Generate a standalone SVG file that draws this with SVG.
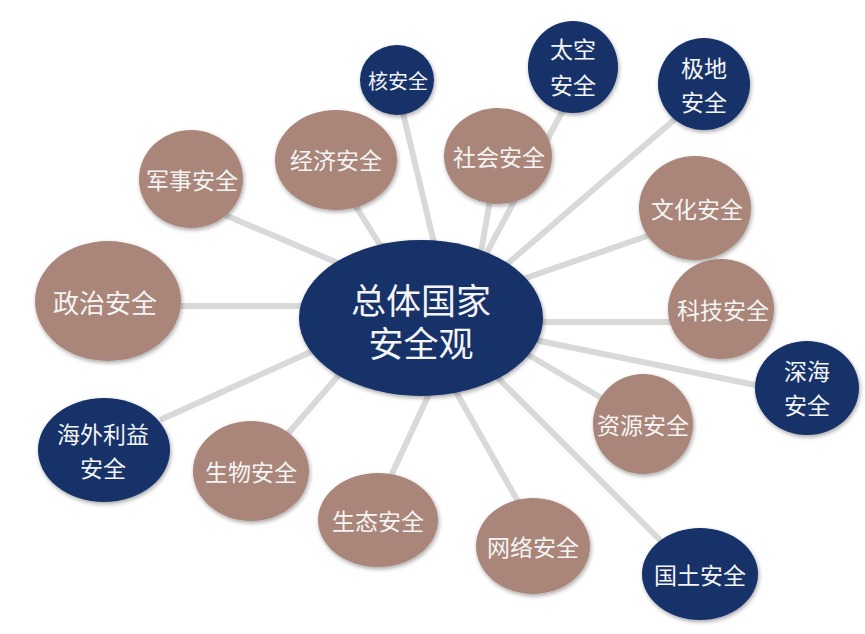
<svg xmlns="http://www.w3.org/2000/svg" width="865" height="634" viewBox="0 0 865 634">
<defs>
<filter id="sh" x="-20%" y="-20%" width="140%" height="140%">
<feDropShadow dx="1" dy="2" stdDeviation="2" flood-color="#000" flood-opacity="0.35"/>
</filter>
<style>
.br{fill:#A98679;filter:url(#sh)}
.nv{fill:#143069;filter:url(#sh)}
.ln{stroke:#D9D9D9;stroke-width:6;stroke-linecap:butt;fill:none}
text{font-family:"Noto Sans CJK SC","Noto Sans",sans-serif;fill:#F4F4F4;text-anchor:middle;dominant-baseline:central;font-size:23px}
</style>
</defs>
<rect width="865" height="634" fill="#fff"/>
<g id="connectors">
<line class="ln" x1="175" y1="306" x2="315" y2="306"/>
<line class="ln" x1="225" y1="215" x2="345" y2="266"/>
<line class="ln" x1="355" y1="205" x2="382" y2="248"/>
<line class="ln" x1="403" y1="113" x2="435" y2="247"/>
<line class="ln" x1="490" y1="200" x2="481" y2="252"/>
<line class="ln" x1="563" y1="110" x2="485" y2="256"/>
<line class="ln" x1="682" y1="113" x2="505" y2="266"/>
<line class="ln" x1="650" y1="235" x2="523" y2="279"/>
<line class="ln" x1="540" y1="322" x2="672" y2="322"/>
<line class="ln" x1="535" y1="340" x2="760" y2="386"/>
<line class="ln" x1="525" y1="353" x2="605" y2="400"/>
<line class="ln" x1="495" y1="375" x2="665" y2="545"/>
<line class="ln" x1="455" y1="390" x2="520" y2="505"/>
<line class="ln" x1="390" y1="478" x2="430" y2="392"/>
<line class="ln" x1="285" y1="437" x2="345" y2="368"/>
<line class="ln" x1="160" y1="420" x2="315" y2="350"/>
</g>
<g id="center"><ellipse class="nv" cx="421" cy="318" rx="122" ry="78"/><text style="font-size:35px"><tspan x="421" y="298">总体国家</tspan><tspan x="421" y="341">安全观</tspan></text></g>
<g id="zhengzhi"><ellipse class="br" cx="108" cy="301" rx="73" ry="60"/><text x="105" y="301" style="font-size:26px">政治安全</text></g>
<g id="junshi"><ellipse class="br" cx="191" cy="179" rx="52" ry="49"/><text x="192" y="179">军事安全</text></g>
<g id="jingji"><ellipse class="br" cx="336" cy="160" rx="61" ry="50"/><text x="336" y="159">经济安全</text></g>
<g id="he"><ellipse class="nv" cx="397" cy="80" rx="37" ry="35"/><text x="398" y="80" style="font-size:20px">核安全</text></g>
<g id="shehui"><ellipse class="br" cx="498" cy="156" rx="54" ry="48"/><text x="499" y="156">社会安全</text></g>
<g id="taikong"><ellipse class="nv" cx="573" cy="67" rx="45" ry="46"/><text><tspan x="573" y="48">太空</tspan><tspan x="573" y="84">安全</tspan></text></g>
<g id="jidi"><ellipse class="nv" cx="704" cy="84" rx="46" ry="46"/><text><tspan x="704" y="67">极地</tspan><tspan x="704" y="101">安全</tspan></text></g>
<g id="wenhua"><ellipse class="br" cx="695" cy="208" rx="56" ry="52"/><text x="697" y="208">文化安全</text></g>
<g id="keji"><ellipse class="br" cx="721" cy="309" rx="53" ry="50"/><text x="723" y="309">科技安全</text></g>
<g id="shenhai"><ellipse class="nv" cx="807" cy="388" rx="52" ry="47"/><text><tspan x="807" y="370">深海</tspan><tspan x="807" y="404">安全</tspan></text></g>
<g id="ziyuan"><ellipse class="br" cx="643" cy="424" rx="50" ry="50"/><text x="643" y="424">资源安全</text></g>
<g id="guotu"><ellipse class="nv" cx="700" cy="574" rx="58" ry="46"/><text x="700" y="574">国土安全</text></g>
<g id="wangluo"><ellipse class="br" cx="533" cy="546" rx="57" ry="48"/><text x="533" y="546">网络安全</text></g>
<g id="shengtai"><ellipse class="br" cx="378" cy="520" rx="60" ry="47"/><text x="378" y="520">生态安全</text></g>
<g id="shengwu"><ellipse class="br" cx="251" cy="471" rx="58" ry="50"/><text x="251" y="471">生物安全</text></g>
<g id="haiwai"><ellipse class="nv" cx="104" cy="450" rx="66" ry="52"/><text><tspan x="103" y="433">海外利益</tspan><tspan x="103" y="467">安全</tspan></text></g>
</svg>
